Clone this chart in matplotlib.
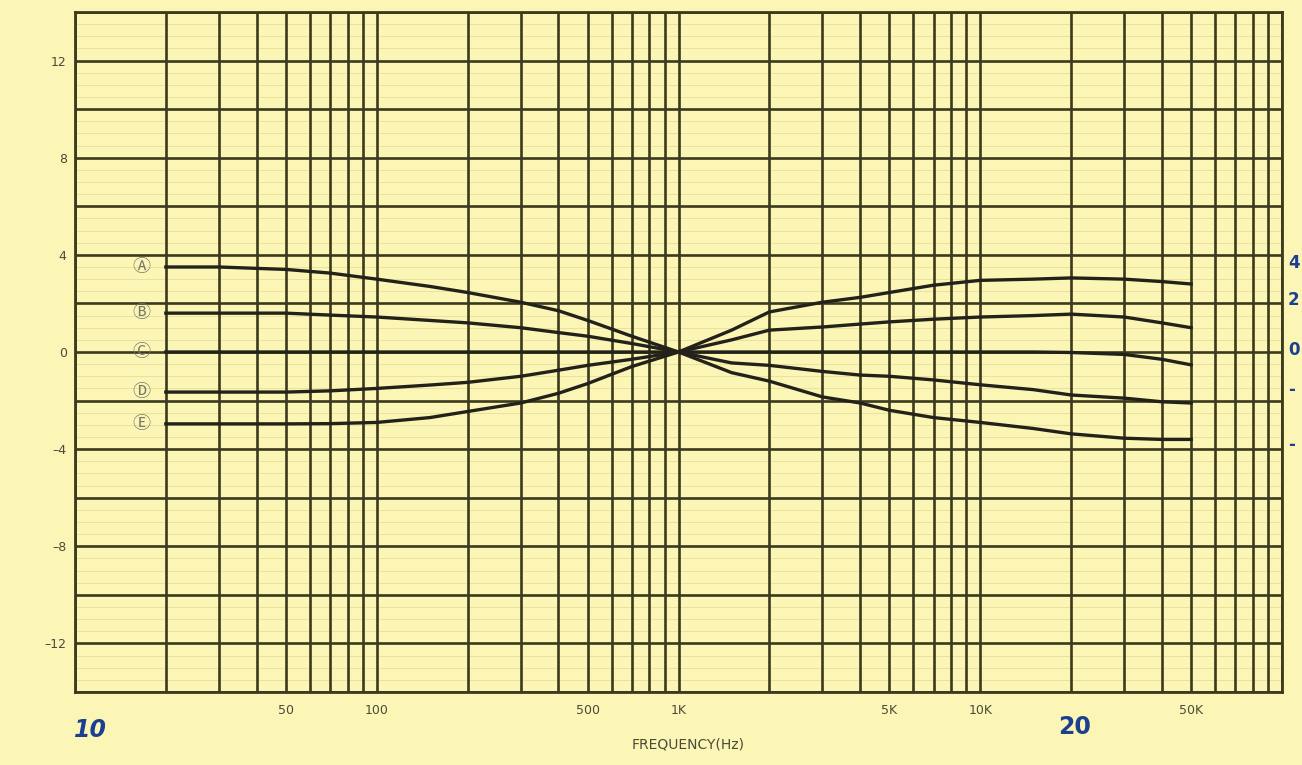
import matplotlib
matplotlib.use("Agg")
import matplotlib.pyplot as plt
import numpy as np

# response curves (dB)
freqs = [20, 30, 50, 70, 100, 150, 200, 300, 400, 500, 700, 1000,
         1500, 2000, 3000, 4000, 5000, 7000, 10000, 15000, 20000, 30000, 40000, 50000]
curve_a = [3.5, 3.5, 3.4, 3.25, 3.0, 2.7, 2.45, 2.05, 1.7, 1.3, 0.65, 0.0,
           0.9, 1.65, 2.05, 2.25, 2.45, 2.75, 2.95, 3.0, 3.05, 3.0, 2.9, 2.8]
curve_b = [1.6, 1.6, 1.6, 1.52, 1.44, 1.3, 1.2, 1.0, 0.8, 0.65, 0.35, 0.0,
           0.5, 0.9, 1.03, 1.15, 1.24, 1.35, 1.44, 1.5, 1.56, 1.44, 1.2, 1.0]
curve_c = [0.0, 0.0, 0.0, 0.0, 0.0, 0.0, 0.0, 0.0, 0.0, 0.0, 0.0, 0.0,
           0.0, 0.0, 0.0, 0.0, 0.0, 0.0, 0.0, 0.0, -0.02, -0.1, -0.3, -0.53]
curve_d = [-1.65, -1.65, -1.65, -1.6, -1.5, -1.36, -1.25, -1.0, -0.75, -0.55, -0.3, 0.0,
           -0.45, -0.55, -0.8, -0.95, -1.0, -1.15, -1.35, -1.55, -1.77, -1.9, -2.05, -2.1]
curve_e = [-2.96, -2.96, -2.96, -2.95, -2.9, -2.7, -2.45, -2.1, -1.7, -1.3, -0.6, 0.0,
           -0.85, -1.2, -1.85, -2.1, -2.4, -2.7, -2.9, -3.15, -3.37, -3.55, -3.6, -3.6]
curve_names = ["Ⓐ", "Ⓑ", "Ⓒ", "Ⓓ", "Ⓔ"]

xtick_vals = [50, 100, 500, 1000, 5000, 10000, 50000]
xtick_labels = ["50", "100", "500", "1K", "5K", "10K", "50K"]
ytick_vals = [12, 8, 4, 0, -4, -8, -12]
ytick_labels = ["12", "8", "4", "0", "–4", "–8", "–12"]

bg = "#fcf6b6"
ink = "#3b3a1c"
curve_col = "#22221a"

fig = plt.figure(figsize=(13.02, 7.65), dpi=100, facecolor=bg)
ax = fig.add_axes([75 / 1302, 1 - 692 / 765, (1282 - 75) / 1302, (692 - 12) / 765])
ax.set_facecolor(bg)
ax.set_xscale("log")
ax.set_xlim(10, 100000)
ax.set_ylim(-14, 14)

# faint paper lines
for y in np.arange(-14, 14.01, 0.5):
    ax.axhline(y, color="#e6dd98", lw=0.6, zorder=0)

# heavy grid
grid_x = [m * 10 ** d for d in range(1, 5) for m in range(1, 10)] + [100000]
for gx in grid_x:
    ax.axvline(gx, color=ink, lw=1.9, zorder=1)
for gy in range(-14, 15, 2):
    ax.axhline(gy, color=ink, lw=1.9, zorder=1)

for ys, name in zip([curve_a, curve_b, curve_c, curve_d, curve_e], curve_names):
    ax.plot(freqs, ys, color=curve_col, lw=2.4, zorder=3)
    ax.text(17.8, ys[0], name, ha="right", va="center", fontsize=13, color="#77776a",
            family=["Noto Sans CJK JP", "DejaVu Sans"], zorder=4)

ax.set_xticks(xtick_vals)
ax.set_xticklabels(xtick_labels)
ax.xaxis.set_minor_locator(matplotlib.ticker.NullLocator())
ax.set_yticks(ytick_vals)
ax.set_yticklabels(ytick_labels)
ax.tick_params(length=0, labelsize=9, colors="#4a4a3a", pad=6)
ax.tick_params(axis="x", pad=9)
for s in ax.spines.values():
    s.set_color(ink)
    s.set_linewidth(2)

fig.text(688 / 1302, 1 - 745 / 765, "FREQUENCY(Hz)", ha="center", va="center",
         fontsize=10, color="#4a4a3a")

# handwritten notes in blue
blue = "#1d3f8f"
fig.text(90 / 1302, 1 - 730 / 765, "10", ha="center", va="center", fontsize=17,
         color=blue, fontweight="bold", style="italic")
fig.text(1075 / 1302, 1 - 727 / 765, "20", ha="center", va="center", fontsize=17,
         color=blue, fontweight="bold")
for yy, t in zip([263, 300, 350, 390, 445], ["4", "2", "0", "-", "-"]):
    fig.text(1288 / 1302, 1 - yy / 765, t, ha="left", va="center", fontsize=12,
             color=blue, fontweight="bold")

fig.savefig("out.png", dpi=100, facecolor=bg)
